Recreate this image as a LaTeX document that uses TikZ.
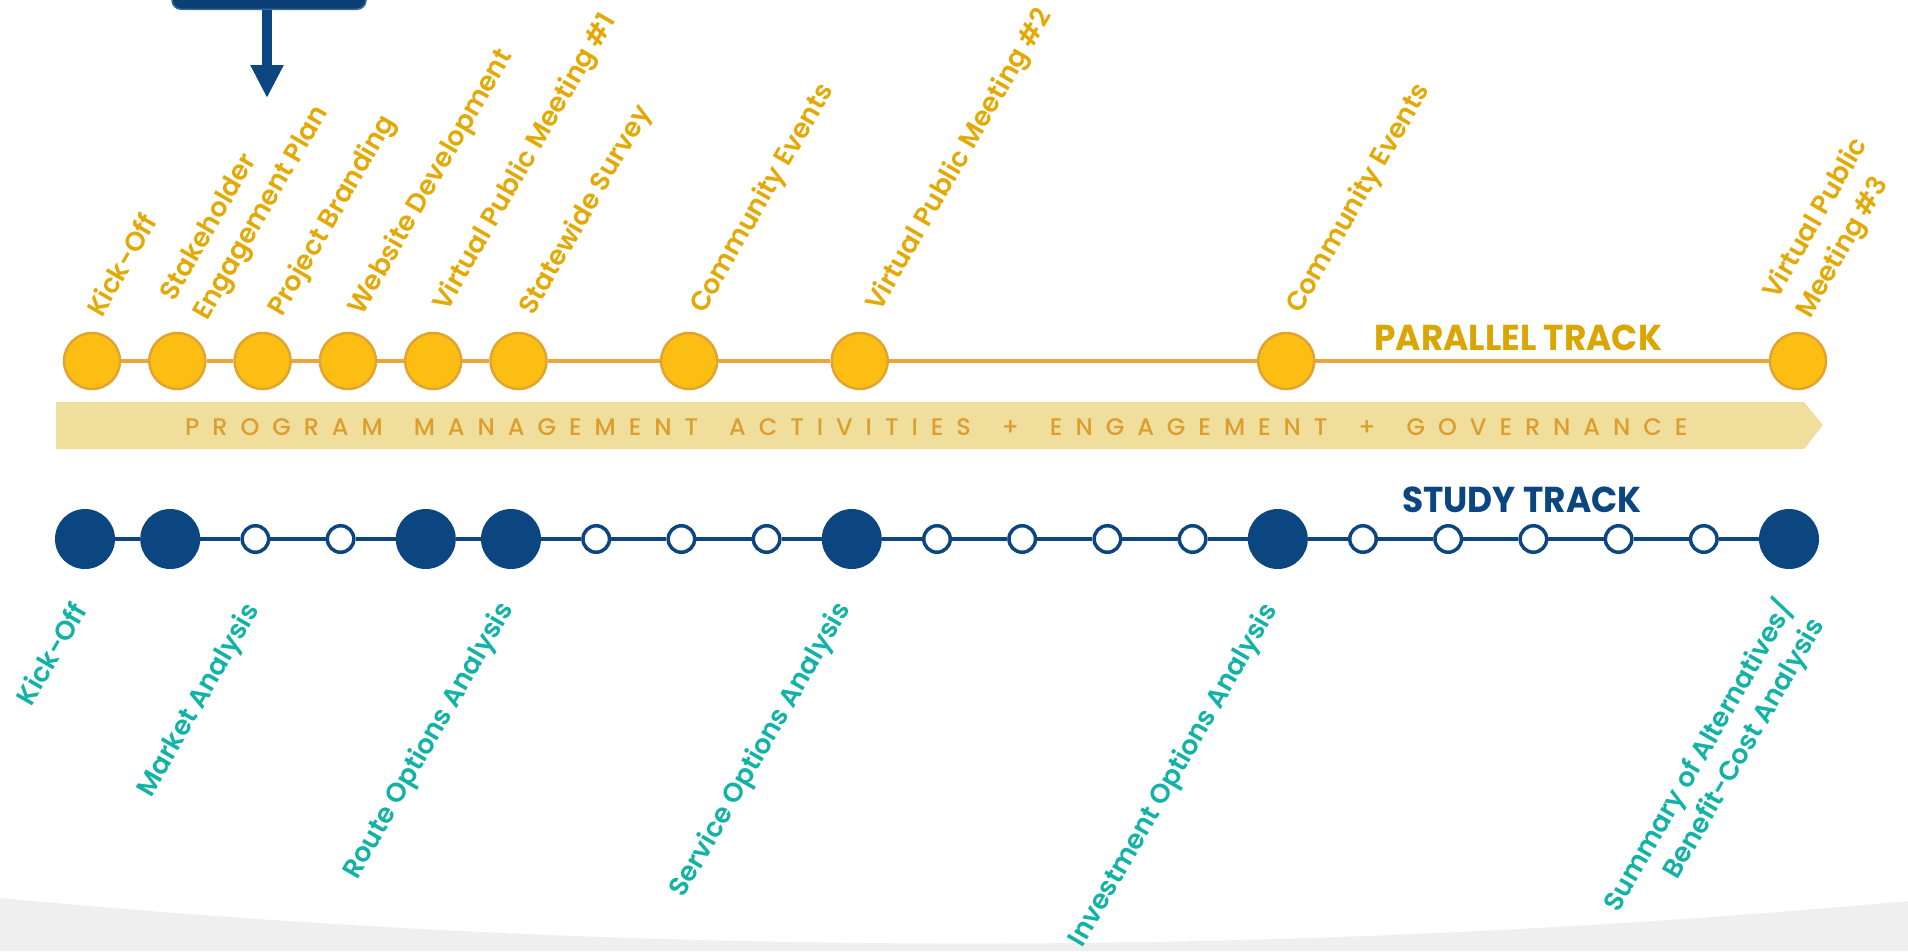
\documentclass[tikz,border=0pt]{standalone}
\usepackage{fontspec}
\usepackage{graphicx}
\setmainfont{Poppins}
\newfontfamily\labfont{Poppins SemiBold}
\newfontfamily\bandfont[LetterSpace=54]{Poppins Medium}
\usetikzlibrary{arrows.meta}
\definecolor{ygold}{HTML}{E3AA07}
\definecolor{pgold}{HTML}{DAA604}
\definecolor{bandtxt}{HTML}{DC9E2E}
\definecolor{bandfill}{HTML}{F0DE9C}
\definecolor{ycfill}{HTML}{FDBE14}
\definecolor{ycborder}{HTML}{E2A430}
\definecolor{ylinecol}{HTML}{E9A73A}
\definecolor{dblue}{HTML}{0B4680}
\definecolor{boxblue}{HTML}{0D3F77}
\definecolor{tealc}{HTML}{12B3A6}
\definecolor{graybg}{HTML}{EFEFEF}
\newcommand{\wgap}{\hspace{31pt}}
\begin{document}
\begin{tikzpicture}[x=1pt,y=-1pt,
  ycirc/.style={circle, fill=ycfill, draw=ycborder, line width=2.5pt, minimum size=56pt, inner sep=0pt},
  bbig/.style={circle, fill=dblue, minimum size=60pt, inner sep=0pt},
  bsmall/.style={circle, fill=white, draw=dblue, line width=3.5pt, minimum size=26.5pt, inner sep=0pt},
  yline/.style={draw=ylinecol, line width=4pt},
  bline/.style={draw=dblue, line width=4pt},
  ylab/.style={text=ygold, font=\labfont\fontsize{26.8}{38}\selectfont, rotate=60, anchor=base west, inner sep=0pt},
  tlab/.style={text=tealc, font=\labfont\fontsize{26.8}{35}\selectfont, rotate=60, anchor=base east, inner sep=0pt},
  boxst/.style={rectangle, rounded corners=9pt, fill=boxblue, draw=dblue!80!white, line width=1.5pt, minimum width=194pt, minimum height=80pt, inner sep=0pt},
  arrowst/.style={draw=dblue, line width=10pt, -{Triangle[width=31pt,length=33pt]}},
  title/.style={font=\bfseries\fontsize{36}{40}\selectfont, anchor=base west, inner sep=0pt}
]
\useasboundingbox (0,0) rectangle (1908,951);
% bottom gray sweep
\fill[graybg] (0,898) .. controls (636,957.7) and (1272,958.7) .. (1908,901) -- (1908,951) -- (0,951) -- cycle;

% top box and arrow
\node[boxst, anchor=south] (box) at (269,10) {};
\coordinate (tip) at (267,98);
\draw[arrowst] (box.south -| tip) -- (tip);

% band
\fill[bandfill] (56,402) -- (1804,402) -- (1823,425) -- (1804,449) -- (56,449) -- cycle;
\node[text=bandtxt, font=\bandfont\fontsize{24}{26}\selectfont, anchor=base west, inner sep=0pt] (band) at (185,435.5)
  {PROGRAM\wgap MANAGEMENT\wgap ACTIVITIES\wgap +\wgap ENGAGEMENT\wgap +\wgap GOVERNANCE};

% parallel track
\foreach \k/\x in {0/92,1/177.3,2/262.6,3/347.9,4/433.2,5/518.5,6/689.1,7/859.7,8/1286.2,9/1798}
  \node[ycirc] (y\k) at (\x,361) {};
\foreach \a/\b in {0/1,1/2,2/3,3/4,4/5,5/6,6/7,7/8,8/9}
  \draw[yline] (y\a) -- (y\b);
\node[title, text=pgold] (ptitle) at (1374,350) {\scalebox{0.955}[1]{PARALLEL TRACK}};

% study track
\foreach \k in {0,1,4,5,9,14,20}
  \node[bbig] (b\k) at ({85+85.2*\k},539) {};
\foreach \k in {2,3,6,7,8,10,11,12,13,15,16,17,18,19}
  \node[bsmall] (b\k) at ({85+85.2*\k},539) {};
\foreach \k [evaluate=\k as \n using int(\k+1)] in {0,...,19}
  \draw[bline] (b\k) -- (b\n);
\node[title, text=dblue] (stitle) at (1402,512) {\scalebox{0.955}[1]{STUDY TRACK}};

% parallel track labels
\node[ylab] (yl0) at (102,319) {Kick-Off};
\node[ylab] (yl1) at (207,322) {\begin{tabular}[b]{@{}l@{}}Stakeholder\\Engagement Plan\end{tabular}};
\node[ylab] (yl2) at (282,318) {Project Branding};
\node[ylab] (yl3) at (362,317) {Website Development};
\node[ylab] (yl4) at (447,313) {Virtual Public Meeting \#1};
\node[ylab] (yl5) at (533,317) {Statewide Survey};
\node[ylab] (yl6) at (704,315) {Community Events};
\node[ylab] (yl7) at (880,313) {Virtual Public Meeting \#2};
\node[ylab] (yl8) at (1300,315) {Community Events};
\node[ylab] (yl9) at (1810,320) {\begin{tabular}[b]{@{}l@{}}Virtual Public\\Meeting \#3\end{tabular}};

% study track labels
\node[tlab] (tl0) at (88,610) {Kick-Off};
\node[tlab] (tl1) at (260,610) {Market Analysis};
\node[tlab] (tl2) at (514,609) {Route Options Analysis};
\node[tlab] (tl3) at (851,609) {Service Options Analysis};
\node[tlab] (tl4) at (1278,610) {Investment Options Analysis};
\node[tlab] (tl5) at (1825,625) {\begin{tabular}[b]{@{}r@{}}Summary of Alternatives/\\Benefit-Cost Analysis\end{tabular}};
\end{tikzpicture}
\end{document}
